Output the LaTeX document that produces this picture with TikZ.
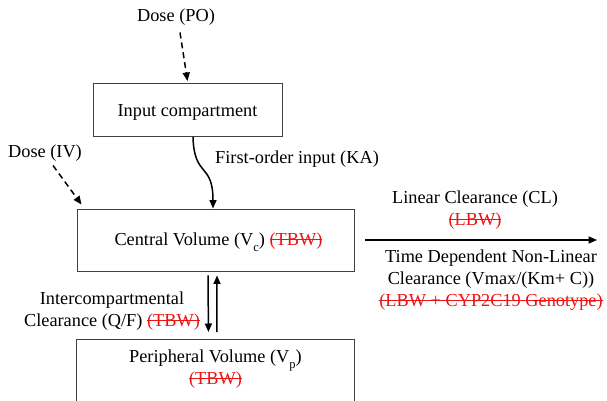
\documentclass[tikz,border=0pt]{standalone}
\usepackage{fontspec}
\setmainfont{Liberation Serif}
\usetikzlibrary{arrows.meta, positioning, calc}
\definecolor{covred}{RGB}{235, 20, 20}
\newsavebox{\strikebox}
\newcommand{\struck}[1]{\textcolor{covred}{\sbox{\strikebox}{#1}\rlap{\rule[0.3em]{\wd\strikebox}{1pt}}\usebox{\strikebox}}}
\newcommand{\lowsub}[1]{\raisebox{-0.3em}{\fontsize{12.5}{12.5}\selectfont #1}}
\newcommand{\dropped}[1]{\raisebox{-2pt}[\height][\depth]{#1}}

\begin{document}
\begin{tikzpicture}[x=1pt, y=-1pt,
  every node/.style={font=\fontsize{18.3}{22}\selectfont},
  cbox/.style={draw=black!75, line width=0.9pt, inner sep=0pt},
  lbl/.style={align=center, inner sep=0pt},
  flow/.style={-{Triangle[length=8.5pt, width=7pt]}, line width=1.5pt},
  dosearr/.style={flow, dashed, dash pattern=on 6pt off 4pt}
]
  \useasboundingbox (0,0) rectangle (607,401);
  \clip (0,0) rectangle (607,401);
  % compartments
  \node[cbox, minimum width=189pt, minimum height=53pt] (inp) at (187.5,110) {\dropped{Input compartment}};
  \node[cbox, minimum width=277pt, minimum height=62pt] (cent) at (215.5,240) {\hspace{6pt}\dropped{Central Volume (V\lowsub{c}) \struck{(TBW)}}};
  \node[cbox, minimum width=278pt, minimum height=100pt, anchor=north west] (peri) at (76,339) {};
  \node[lbl, anchor=north] (perilbl) at ([yshift=-11pt]peri.north) {Peripheral Volume (V\lowsub{p})\\\struck{(TBW)}};
  % doses
  \node[lbl] (dosepo) at (176,17) {Dose (PO)};
  \node[lbl] (doseiv) at (45,153) {Dose (IV)};
  \draw[dosearr] ([xshift=4pt,yshift=-7pt]dosepo.south) -- ([yshift=2pt]inp.north);
  \draw[dosearr] ([xshift=8pt,yshift=-4pt]doseiv.south) -- ([xshift=5pt,yshift=4pt]cent.north west);
  % absorption
  \draw[flow] ([xshift=5.5pt]inp.south) .. controls (194,178) and (213,162) .. ([xshift=-2.5pt]cent.north);
  \node[lbl, anchor=west] (kalbl) at (215,159) {First-order input (KA)};
  % elimination
  \coordinate (clend) at (597,240);
  \draw[flow] ([xshift=11pt]cent.east) -- (clend);
  \node[lbl] (cllbl) at (475,210) {Linear Clearance (CL)\\\struck{(LBW)}};
  \node[lbl] (nllbl) at (491,280) {Time Dependent Non-Linear\\Clearance (Vmax/(Km+ C))\\\struck{(LBW + CYP2C19 Genotype)}};
  % distribution
  \draw[flow] ([xshift=-7.5pt,yshift=-4pt]cent.south) -- ([xshift=-7pt,yshift=7pt]peri.north);
  \draw[flow] ([xshift=1.5pt,yshift=7pt]peri.north) -- ([xshift=1.5pt,yshift=-4pt]cent.south);
  \node[lbl] (qlbl) at (112,311) {Intercompartmental\\Clearance (Q/F) \struck{(TBW)}};
\end{tikzpicture}
\end{document}
